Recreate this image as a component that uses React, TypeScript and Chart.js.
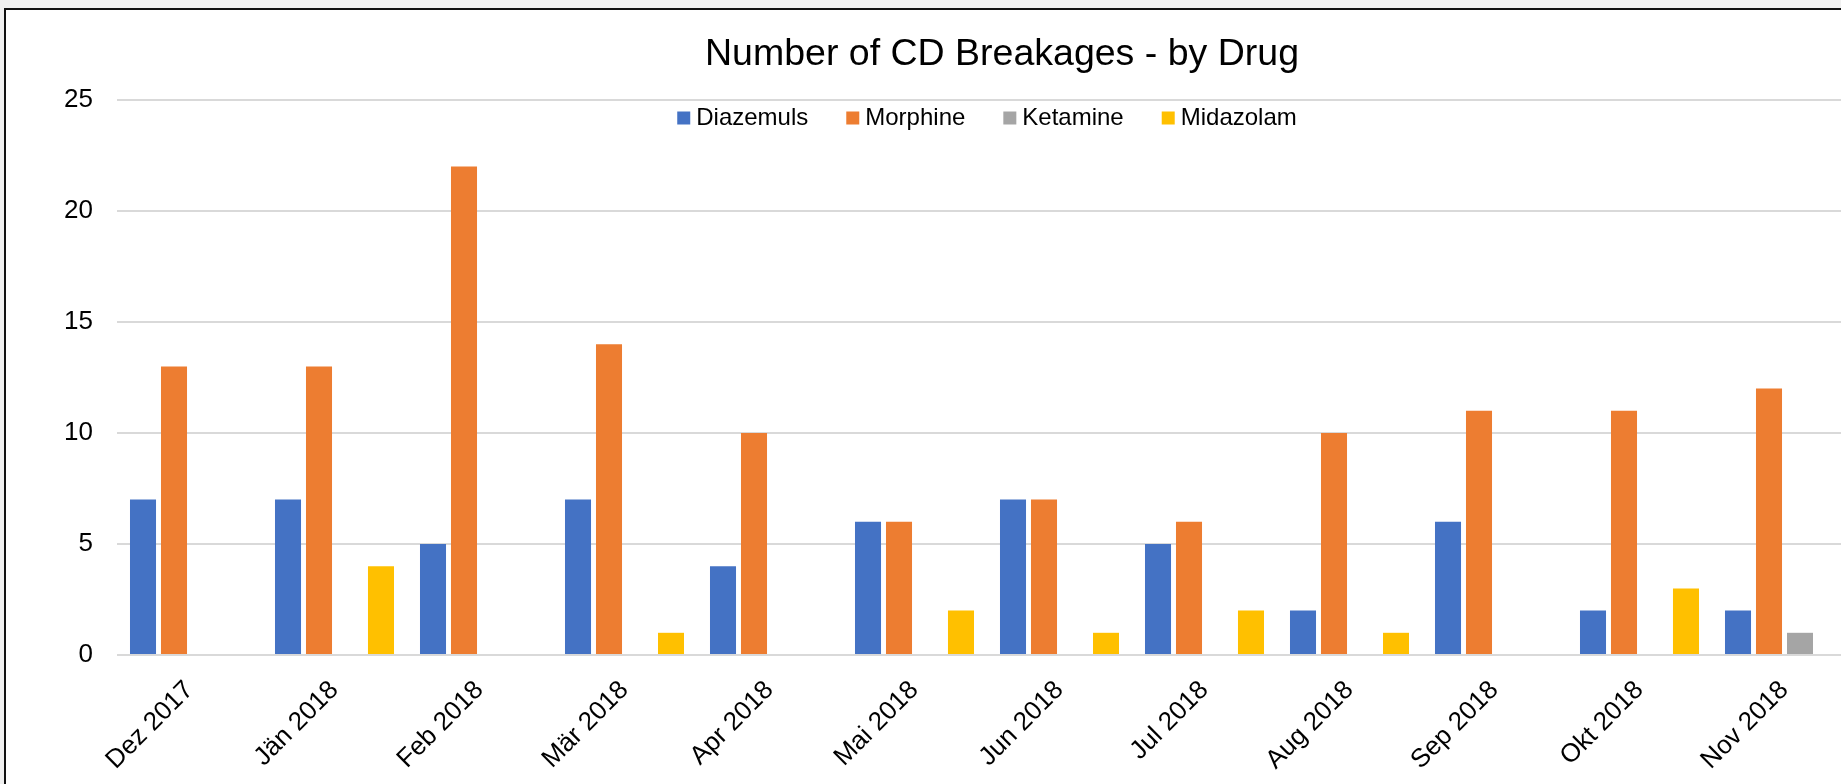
import React, { useEffect, useRef } from "react";
import { Chart, registerables } from "chart.js";

Chart.register(...registerables);

const chartTitle = "Number of CD Breakages - by Drug";
const categories = [
  "Dez 2017", "Jän 2018", "Feb 2018", "Mär 2018", "Apr 2018", "Mai 2018",
  "Jun 2018", "Jul 2018", "Aug 2018", "Sep 2018", "Okt 2018", "Nov 2018",
];
const diazemuls = [7, 7, 5, 7, 4, 6, 7, 5, 2, 6, 2, 2];
const morphine = [13, 13, 22, 14, 10, 6, 7, 6, 10, 11, 11, 12];
const ketamine = [0, 0, 0, 0, 0, 0, 0, 0, 0, 0, 0, 1];
const midazolam = [0, 4, 0, 1, 0, 2, 1, 2, 1, 0, 3, 0];
const yTicks = [0, 5, 10, 15, 20, 25];

const FONT = '"Liberation Sans", Arial, sans-serif';

const titleLegendPlugin = {
  id: "titleLegend",
  afterDraw(chart: any) {
    const { ctx, chartArea } = chart;
    ctx.save();
    // title
    ctx.font = `37.5px ${FONT}`;
    ctx.fillStyle = "#000";
    ctx.textAlign = "center";
    ctx.textBaseline = "middle";
    ctx.fillText(chartTitle, chart.width / 2, 45);
    // legend
    ctx.font = `24px ${FONT}`;
    const box = 13;
    const gap = 6;
    const spacing = 38;
    const items = chart.data.datasets.map((ds: any) => ({
      text: ds.label,
      color: ds.backgroundColor,
      w: ctx.measureText(ds.label).width,
    }));
    const total =
      items.reduce((s: number, it: any) => s + box + gap + it.w, 0) +
      spacing * (items.length - 1);
    let x = (chartArea.left + chartArea.right) / 2 - total / 2;
    const yMid = chartArea.top + 18;
    ctx.textAlign = "left";
    for (const it of items) {
      ctx.fillStyle = it.color;
      ctx.fillRect(x, yMid - 6.5, box, box);
      ctx.fillStyle = "#000";
      ctx.fillText(it.text, x + box + gap, yMid);
      x += box + gap + it.w + spacing;
    }
    ctx.restore();
  },
};

export default function App() {
  const canvasRef = useRef<HTMLCanvasElement | null>(null);

  useEffect(() => {
    if (!canvasRef.current) return;
    const tickFont = { family: FONT, size: 26 };
    const chart = new Chart(canvasRef.current, {
      type: "bar",
      data: {
        labels: categories,
        datasets: [
          { label: "Diazemuls", data: diazemuls, backgroundColor: "#4472C4" },
          { label: "Morphine", data: morphine, backgroundColor: "#ED7D31" },
          { label: "Ketamine", data: ketamine, backgroundColor: "#A5A5A5" },
          { label: "Midazolam", data: midazolam, backgroundColor: "#FFC000" },
        ],
      },
      options: {
        animation: false,
        responsive: true,
        maintainAspectRatio: false,
        datasets: {
          bar: { categoryPercentage: 0.855, barPercentage: 0.84 },
        },
        layout: { padding: { top: 90, right: 141, left: 0, bottom: 0 } },
        plugins: {
          legend: { display: false },
          title: { display: false },
          tooltip: { enabled: false },
        },
        scales: {
          x: {
            grid: { display: false, drawTicks: false },
            border: { display: false },
            ticks: {
              autoSkip: false,
              maxRotation: 45,
              minRotation: 45,
              padding: 20,
              font: tickFont,
              color: "#000",
            },
            afterFit: (a: any) => {
              a.height = 155;
            },
          },
          y: {
            min: 0,
            max: 25,
            grid: { color: "#d9d9d9", lineWidth: 2, drawTicks: false },
            border: { display: false },
            ticks: { padding: 24, font: tickFont, color: "#000" },
            afterBuildTicks: (a: any) => {
              a.ticks = yTicks.map((v) => ({ value: v }));
            },
            afterFit: (a: any) => {
              a.width = 111;
            },
          },
        },
      },
      plugins: [titleLegendPlugin],
    });
    return () => chart.destroy();
  }, []);

  return (
    <div
      style={{
        position: "fixed",
        left: 0,
        top: 0,
        width: "100vw",
        height: "100vh",
        background: "#f0f0f0",
        overflow: "hidden",
      }}
    >
      <div
        style={{
          position: "absolute",
          left: 4,
          top: 8,
          border: "2px solid #111",
          background: "#fff",
          width: 1992,
          height: 800,
        }}
      >
        <div style={{ position: "relative", width: 1992, height: 800 }}>
          <canvas ref={canvasRef} />
        </div>
      </div>
    </div>
  );
}
